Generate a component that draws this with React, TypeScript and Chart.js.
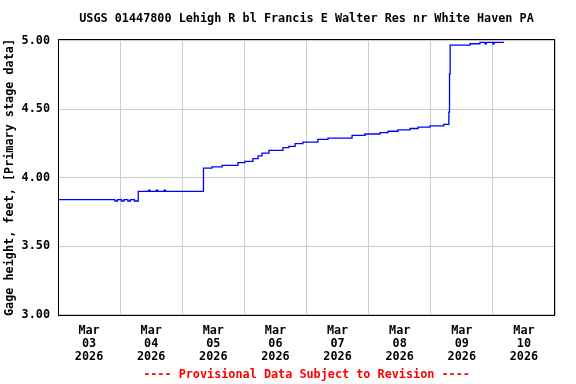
import React, { useEffect, useRef } from "react";
import { Chart, registerables } from "chart.js";

Chart.register(...registerables);

// ---- Text ----
const TITLE = "USGS 01447800 Lehigh R bl Francis E Walter Res nr White Haven PA";
const Y_TITLE = "Gage height, feet, [Primary stage data]";
const FOOTER = "---- Provisional Data Subject to Revision ----";

// ---- X axis (days starting Mar 03 2026 00:00) ----
const DAY_MONTHS = ["Mar", "Mar", "Mar", "Mar", "Mar", "Mar", "Mar", "Mar"];
const DAY_NUMS = ["03", "04", "05", "06", "07", "08", "09", "10"];
const DAY_YEARS = ["2026", "2026", "2026", "2026", "2026", "2026", "2026", "2026"];

// ---- Y axis ----
const Y_TICKS = [3.0, 3.5, 4.0, 4.5, 5.0];

// ---- Series: hours since Mar 03 00:00, gage height (ft) ----
const HOURS = [
  0, 22.0, 23.0, 24.5, 25.5, 27.0, 28.0, 29.5, 30.5, 31.0,
  35.0, 35.5, 38.0, 38.5, 41.0, 41.5, 56.2, 59.5, 63.4, 69.5,
  72.2, 75.3, 77.3, 78.8, 81.5, 86.9, 89.2, 91.6, 94.6, 100.4,
  104.3, 113.6, 118.6, 124.4, 127.5, 131.3, 136.0, 139.1, 143.7, 149.0,
  150.75, 151.0, 151.25, 151.5, 159.2, 163.0, 165.0, 165.5, 168.0, 168.5,
  172.25,
];
const STAGE = [
  3.84, 3.83, 3.84, 3.83, 3.84, 3.83, 3.84, 3.83, 3.83, 3.90,
  3.91, 3.90, 3.91, 3.90, 3.91, 3.90, 4.07, 4.08, 4.09, 4.11,
  4.12, 4.14, 4.16, 4.18, 4.20, 4.22, 4.23, 4.25, 4.26, 4.28,
  4.29, 4.31, 4.32, 4.33, 4.34, 4.35, 4.36, 4.37, 4.38, 4.39,
  4.39, 4.48, 4.76, 4.97, 4.98, 4.99, 4.98, 4.99, 4.98, 4.99,
  4.99,
];

const FONT_FAMILY = "'DejaVu Sans Mono', monospace";
const FONT_SIZE = 11.8;

const textPlugin = {
  id: "usgsFrameText",
  afterDraw(chart: any) {
    const { ctx, chartArea: a } = chart;
    ctx.save();
    // frame
    ctx.strokeStyle = "#000000";
    ctx.lineWidth = 1;
    ctx.strokeRect(a.left + 0.5, a.top - 0.5, a.right - a.left - 1, a.bottom - a.top + 1);
    // title & footer
    const cx = (a.left + a.right) / 2;
    ctx.font = `bold ${FONT_SIZE}px ${FONT_FAMILY}`;
    ctx.textAlign = "center";
    ctx.textBaseline = "middle";
    ctx.fillStyle = "#000000";
    ctx.fillText(TITLE, cx, 19);
    ctx.fillStyle = "#ff0000";
    ctx.fillText(FOOTER, cx, 375);
    ctx.restore();
  },
};

export default function App() {
  const ref = useRef<HTMLCanvasElement | null>(null);

  useEffect(() => {
    document.body.style.margin = "0";
    const canvas = ref.current;
    if (!canvas) return;
    // Each reading holds until the next one (staircase)
    const data = HOURS.map((h, i) => ({ x: h / 24, y: STAGE[i] }));
    const tickFont = { family: FONT_FAMILY, size: FONT_SIZE, weight: "bold" as const, lineHeight: 1.08 };

    const chart = new Chart(canvas, {
      type: "line",
      data: {
        datasets: [
          {
            data,
            borderColor: "#0000ff",
            borderWidth: 1.3,
            pointRadius: 0,
            stepped: true,
            fill: false,
          },
        ],
      },
      options: {
        animation: false,
        responsive: false,
        devicePixelRatio: 1,
        parsing: false as any,
        layout: { padding: { left: 0, right: 21, top: 40, bottom: 0 } },
        plugins: {
          legend: { display: false },
          tooltip: { enabled: false },
          title: { display: false },
        },
        scales: {
          x: {
            type: "linear",
            min: 0,
            max: DAY_NUMS.length,
            border: { display: false },
            afterFit(scale: any) {
              scale.height = 69;
            },
            afterBuildTicks(scale: any) {
              const t: any[] = [];
              for (let i = 0; i <= DAY_NUMS.length * 2; i++) t.push({ value: i / 2 });
              scale.ticks = t;
            },
            grid: {
              drawTicks: false,
              lineWidth: 1,
              color: (ctx: any) =>
                ctx.tick && Math.abs(ctx.tick.value % 1) < 1e-6 ? "#cccccc" : "rgba(0,0,0,0)",
            },
            ticks: {
              autoSkip: false,
              maxRotation: 0,
              minRotation: 0,
              padding: 10,
              color: "#000000",
              font: tickFont,
              callback: (v: any) => {
                const val = Number(v);
                if (Math.abs((val % 1) - 0.5) > 1e-6) return "";
                const i = Math.floor(val);
                return [DAY_MONTHS[i], DAY_NUMS[i], DAY_YEARS[i]];
              },
            },
          },
          y: {
            type: "linear",
            min: 2.9963,
            max: 5.0073,
            border: { display: false },
            afterFit(scale: any) {
              scale.width = 58;
            },
            afterBuildTicks(scale: any) {
              scale.ticks = Y_TICKS.map((v) => ({ value: v }));
            },
            grid: { drawTicks: false, color: "#cccccc", lineWidth: 1 },
            ticks: {
              padding: 8,
              color: "#000000",
              font: tickFont,
              callback: (v: any) => Number(v).toFixed(2),
            },
            title: {
              display: true,
              text: Y_TITLE,
              color: "#000000",
              font: { family: FONT_FAMILY, size: FONT_SIZE, weight: "bold" as const, lineHeight: 1.2 },
              padding: { top: 3, bottom: 0 },
            },
          },
        },
      },
      plugins: [textPlugin],
    });
    return () => chart.destroy();
  }, []);

  return (
    <div style={{ width: 576, height: 384, background: "#ffffff" }}>
      <canvas ref={ref} width={576} height={384} style={{ display: "block" }} />
    </div>
  );
}
